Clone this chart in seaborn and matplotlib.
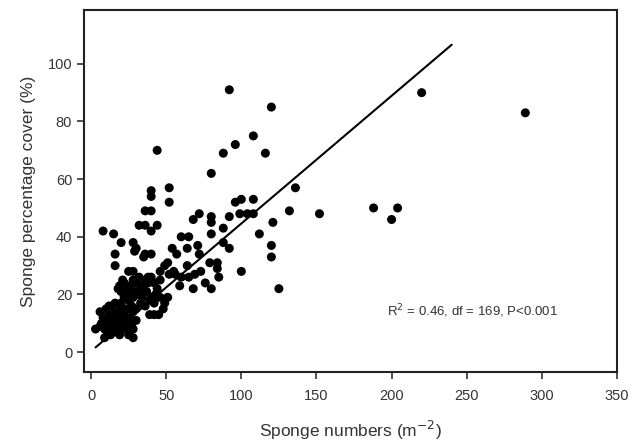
import numpy as np
import pandas as pd
import matplotlib
matplotlib.use("Agg")
import matplotlib.pyplot as plt
import seaborn as sns

# --- dados (números de esponjas vs. cobertura %) ---
sponge_numbers = [
    289, 220, 188, 204, 200, 152, 136, 132, 125, 120, 121, 120, 120, 116, 112,
    108, 108, 108, 104, 100, 99, 100, 96, 96, 92, 92, 92, 88, 88, 88,
    84, 84, 85, 80, 80, 80, 80, 80, 79, 76, 73, 72, 72, 71, 69,
    68, 68, 65, 65, 64, 64, 60, 60, 59, 57, 56, 54, 55, 52, 52,
    52, 51, 49, 51, 49, 48, 46, 44, 44, 45, 42, 40, 40, 40, 40,
    40, 39, 36, 36, 36, 35, 32, 30, 29, 28, 28, 25, 20, 21, 19,
    20, 16, 16, 15, 8, 28, 28, 22, 19, 3, 6,
    # grupo denso A
    18, 20, 22, 24, 26, 28, 30, 32, 34, 36, 38, 40, 42, 44, 46,
    22, 25, 28, 31, 34, 37, 40, 43, 46, 27, 30, 33, 36, 39, 42,
    24, 35, 38, 33, 29,
    # grupo denso B
    6, 8, 10, 12, 14, 16, 18, 20, 22, 24, 26, 28, 30, 7, 9,
    11, 13, 15, 17, 19, 21, 23, 25, 27, 9, 11, 13, 15, 17, 12,
    16, 20, 25, 10, 14,
]
sponge_cover = [
    83, 90, 50, 50, 46, 48, 57, 49, 22, 85, 45, 37, 33, 69, 41,
    75, 53, 48, 48, 53, 48, 28, 72, 52, 91, 47, 36, 69, 43, 38,
    31, 29, 26, 62, 47, 45, 41, 22, 31, 24, 28, 48, 34, 37, 27,
    46, 22, 40, 26, 36, 30, 40, 26, 23, 34, 27, 36, 28, 57, 52,
    27, 31, 30, 19, 17, 15, 28, 70, 44, 13, 13, 56, 54, 49, 42,
    34, 13, 49, 44, 34, 33, 44, 36, 35, 38, 28, 28, 38, 25, 23,
    17, 34, 30, 41, 42, 8, 5, 8, 6, 8, 9,
    # grupo denso A
    22, 21, 24, 22, 23, 25, 24, 26, 23, 25, 24, 26, 24, 22, 25,
    19, 18, 19, 20, 19, 21, 19, 20, 19, 16, 15, 17, 16, 18, 17,
    20, 21, 26, 22, 21,
    # grupo denso B
    14, 12, 15, 13, 16, 14, 12, 14, 13, 15, 12, 14, 11, 10, 8,
    10, 9, 11, 9, 11, 10, 11, 9, 10, 5, 7, 6, 8, 7, 16,
    17, 16, 6, 11, 12,
]

# reta de regressão (extremos)
fit_x = [3, 240]
fit_slope = 0.443
fit_intercept = 0.3

x_ticks = [0, 50, 100, 150, 200, 250, 300, 350]
y_ticks = [0, 20, 40, 60, 80, 100]

df = pd.DataFrame({"numbers": sponge_numbers, "cover": sponge_cover})
df_fit = pd.DataFrame({"x": fit_x})
df_fit["y"] = fit_intercept + fit_slope * df_fit["x"]

sns.set_style("ticks")
plt.rcParams["font.family"] = ["Liberation Sans", "DejaVu Sans"]

fig = plt.figure(figsize=(6.33, 4.47), dpi=100)
ax = fig.add_axes([0.1327, 0.1678, 0.842, 0.81])

sns.scatterplot(data=df, x="numbers", y="cover", ax=ax, color="black",
                s=42, marker="o", edgecolor="none", zorder=3)
sns.lineplot(data=df_fit, x="x", y="y", ax=ax, color="black", linewidth=1.5,
             zorder=2)

ax.set_xlim(-4.7, 350)
ax.set_ylim(-6.9, 118.7)
ax.set_xticks(x_ticks)
ax.set_yticks(y_ticks)
ax.tick_params(axis="both", labelsize=10.5, colors="#333333", length=5,
               width=1.2, direction="out")
ax.tick_params(axis="x", pad=7)
for side in ["left", "bottom", "top", "right"]:
    ax.spines[side].set_visible(True)
    ax.spines[side].set_linewidth(1.5)
    ax.spines[side].set_color("#222222")

ax.set_xlabel("Sponge numbers (m$^{-2}$)", fontsize=12.5, color="#333333",
              labelpad=12)
ax.set_ylabel("Sponge percentage cover (%)", fontsize=12.5, color="#333333",
              labelpad=8)

ax.text(0.568, 0.168, "R$^{2}$ = 0.46, df = 169, P<0.001", transform=ax.transAxes,
        fontsize=9.5, color="#333333", ha="left", va="center")

plt.savefig("out.png", dpi=100)
